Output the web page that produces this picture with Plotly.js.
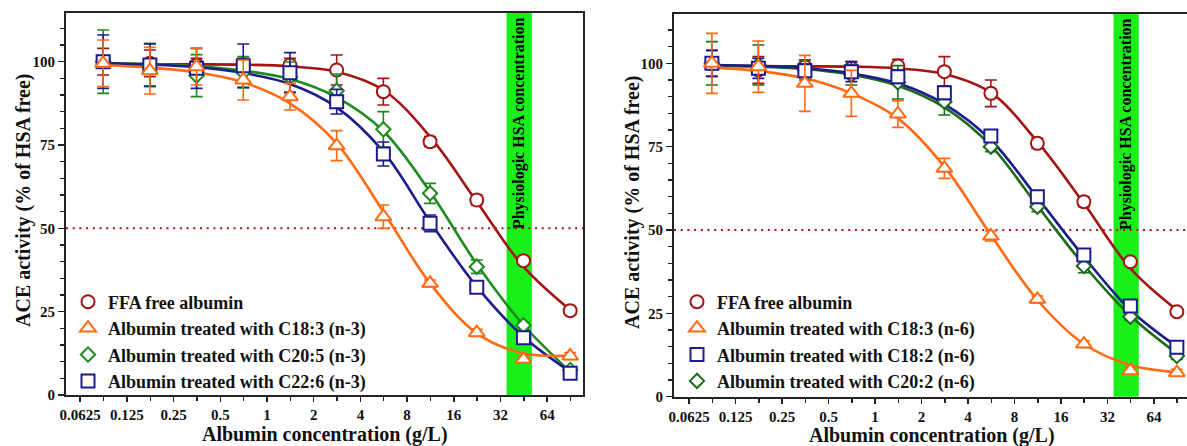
<!DOCTYPE html>
<html><head><meta charset="utf-8">
<script src="https://cdn.plot.ly/plotly-3.0.1.min.js"></script>
<style>html,body{margin:0;padding:0;background:#fff;}#chart{width:1187px;height:446px;}</style>
</head><body><div id="chart"></div>
<script>
// Albumin concentrations (g/L)
const conc = [0.08789, 0.17578, 0.35156, 0.70313, 1.40625, 2.8125, 5.625, 11.25, 22.5, 45, 90];
const tickVals = [0.0625, 0.125, 0.25, 0.5, 1, 2, 4, 8, 16, 32, 64];
const tickText = ['0.0625', '0.125', '0.25', '0.5', '1', '2', '4', '8', '16', '32', '64'];
const minorVals = [0.0884, 0.1768, 0.3536, 0.7071, 1.4142, 2.8284, 5.6569, 11.314, 22.627, 45.255, 90.51];
const physioRange = [35, 51];

// Left panel (n-3): measured points, error bars, fitted curves
const ffaL = [100, 99.5, 99, 99, 99, 97.5, 91, 76, 58.5, 40.3, 25.3];
const ffaLerr = [4, 4, 2, 2, 2, 4.5, 4, 1.5, 1.5, 1, 1];
const ffaLfit = [99.3, 99.2, 99.2, 99.1, 98.6, 97, 91.5, 77.5, 58, 38.5, 25.5];
const c183L = [99.5, 97.3, 98.5, 94.5, 89.5, 74.8, 53.5, 33.5, 18.7, 10.7, 11.7];
const c183Lerr = [7, 7, 5.5, 6, 4, 4.5, 3.5, 1, 1, 1, 1];
const c183Lfit = [99, 98.2, 96.8, 93.8, 87.5, 75.5, 55, 33.5, 18.5, 12.5, 11.8];
const c205L = [100, 99, 95.8, 96.8, 95.4, 91.3, 79.7, 60.5, 38.5, 20.9, 7.5];
const c205Lerr = [9.5, 6.5, 6.3, 4.7, 4.5, 5, 5.3, 3, 2, 1, 1];
const c205Lfit = [99.6, 99.3, 98.6, 97.3, 94.8, 89.3, 79.2, 61, 39.3, 21, 7];
const c226L = [100, 99, 98, 98.8, 96.7, 88, 72.3, 51.5, 32.3, 17.2, 6.5];
const c226Lerr = [8, 6.3, 6, 6.5, 6, 3.7, 3.6, 2.5, 1, 1, 1];
const c226Lfit = [99.5, 99.1, 98.3, 96.6, 93.3, 86.3, 73, 52, 32.5, 17.5, 7];

// Right panel (n-6)
const ffaR = [100, 98, 99, 98.5, 99.2, 97.5, 91, 76, 58.5, 40.5, 25.5];
const ffaRerr = [4, 4, 2, 2, 2, 4.5, 4, 1.5, 1.5, 1, 1];
const ffaRfit = [99.3, 99.2, 99.1, 99, 98.5, 96.8, 91.2, 76.5, 58, 38.5, 26];
const c183R = [100, 99, 94, 91, 84.8, 68.5, 48.2, 29.2, 15.8, 7.8, 7.2];
const c183Rerr = [9, 7.7, 8.4, 6.9, 4, 3, 1.5, 1, 1, 1, 1];
const c183Rfit = [98.8, 97.7, 95.5, 91, 83.5, 69, 48.5, 29, 15.8, 9.5, 7.3];
const c182R = [100, 98.5, 97.8, 97.5, 96, 91.2, 78.2, 60, 42.5, 27.2, 14.8];
const c182Rerr = [3.8, 3, 2, 3, 2, 2, 1.5, 1.5, 1.5, 1, 1];
const c182Rfit = [99.5, 99.2, 98.6, 97, 94, 87.8, 77, 59.7, 42, 26, 15];
const c202R = [100, 99.5, 98, 96.5, 94.3, 88.5, 75, 57, 39.2, 24, 12.2];
const c202Rerr = [6.5, 6, 3, 3, 5, 4, 1.5, 1.5, 2, 1, 1];
const c202Rfit = [99.4, 99, 98.3, 96.6, 93.3, 86.8, 75.3, 57.3, 39.5, 24.3, 13];

const RED = '#a31515', ORANGE = '#ff6a13', GREENL = '#1f8a1f', GREENR = '#1c6b1c', BLUE = '#1c1c8c';
const FONT = 'Liberation Serif, Times New Roman, serif';

function curve(y, color, xa, ya) {
  return {x: conc, y: y, xaxis: xa, yaxis: ya, mode: 'lines', showlegend: false, hoverinfo: 'skip',
    line: {color: color, width: 2.6, shape: 'spline', smoothing: 1}};
}
function pts(y, err, color, sym, size, name, xa, ya, leg, rank) {
  return {x: conc, y: y, xaxis: xa, yaxis: ya, mode: 'markers', name: name, legend: leg, legendrank: rank,
    marker: {symbol: sym, size: size, color: 'white', line: {color: color, width: 2}},
    error_y: {type: 'data', array: err, visible: true, color: color, thickness: 1.6, width: 6}};
}

const traces = [
  curve(ffaLfit, RED, 'x', 'y'), curve(c205Lfit, GREENL, 'x', 'y'), curve(c226Lfit, BLUE, 'x', 'y'), curve(c183Lfit, ORANGE, 'x', 'y'),
  pts(ffaL, ffaLerr, RED, 'circle', 13, 'FFA free albumin', 'x', 'y', 'legend', 1),
  pts(c205L, c205Lerr, GREENL, 'diamond', 11, 'Albumin treated with C20:5 (n-3)', 'x', 'y', 'legend', 3),
  pts(c226L, c226Lerr, BLUE, 'square', 13, 'Albumin treated with C22:6 (n-3)', 'x', 'y', 'legend', 4),
  pts(c183L, c183Lerr, ORANGE, 'triangle-up', 14, 'Albumin treated with C18:3 (n-3)', 'x', 'y', 'legend', 2),

  curve(ffaRfit, RED, 'x2', 'y2'), curve(c202Rfit, GREENR, 'x2', 'y2'), curve(c182Rfit, BLUE, 'x2', 'y2'), curve(c183Rfit, ORANGE, 'x2', 'y2'),
  pts(ffaR, ffaRerr, RED, 'circle', 13, 'FFA free albumin', 'x2', 'y2', 'legend2', 1),
  pts(c202R, c202Rerr, GREENR, 'diamond', 11, 'Albumin treated with C20:2 (n-6)', 'x2', 'y2', 'legend2', 4),
  pts(c182R, c182Rerr, BLUE, 'square', 13, 'Albumin treated with C18:2 (n-6)', 'x2', 'y2', 'legend2', 3),
  pts(c183R, c183Rerr, ORANGE, 'triangle-up', 14, 'Albumin treated with C18:3 (n-6)', 'x2', 'y2', 'legend2', 2)
];

const W = 1187, H = 446;
function xax(domain, range, mirror) {
  return {type: 'log', domain: domain, range: range, tickmode: 'array', tickvals: tickVals, ticktext: tickText,
    ticks: 'outside', ticklen: 5, tickwidth: 1.5, tickcolor: '#222', showline: true, linewidth: 2, linecolor: '#222',
    mirror: mirror, showgrid: false, zeroline: false,
    tickfont: {family: FONT, size: 15, color: '#111', weight: 'bold'},
    minor: {tickmode: 'array', tickvals: minorVals, ticks: 'outside', ticklen: 4, tickwidth: 1.5, tickcolor: '#222', showgrid: false}};
}
function yax(domain, range, mirror, anchor) {
  return {domain: domain, range: range, anchor: anchor, tickmode: 'array', tickvals: [0, 25, 50, 75, 100],
    ticks: 'outside', ticklen: 6, tickwidth: 1.5, tickcolor: '#222', showline: true, linewidth: 2, linecolor: '#222',
    mirror: mirror, showgrid: false, zeroline: false,
    tickfont: {family: FONT, size: 15, color: '#111', weight: 'bold'},
    minor: {dtick: 5, ticks: 'outside', ticklen: 4, tickwidth: 1.5, tickcolor: '#222', showgrid: false}};
}
const lg = Math.log10;
function band(xr, yr) {
  return {type: 'rect', xref: xr, yref: yr + ' domain', x0: physioRange[0], x1: physioRange[1], y0: 0, y1: 1,
    fillcolor: '#19f019', line: {width: 0}, layer: 'below'};
}
function half(xr, yr) {
  return {type: 'line', xref: xr + ' domain', yref: yr, x0: 0, x1: 1, y0: 50, y1: 50,
    line: {color: '#b01010', width: 2, dash: '2px,4.7px'}, layer: 'below'};
}
function bandText(xr, yr) {
  return {xref: xr, yref: yr + ' domain', x: lg(Math.sqrt(physioRange[0] * physioRange[1])), y: 0.995, yanchor: 'top', xanchor: 'center',
    textangle: -90, showarrow: false, text: 'Physiologic HSA concentration',
    font: {family: FONT, size: 16, color: '#000', weight: 'bold'}};
}
function title(text, x, y, angle) {
  return {xref: 'paper', yref: 'paper', x: x, y: y, xanchor: 'center', yanchor: 'middle', showarrow: false,
    textangle: angle, text: text, font: {family: FONT, size: 20, color: '#111', weight: 'bold'}};
}
const legFont = {family: FONT, size: 18, color: '#111', weight: 'bold'};

const layout = {
  width: W, height: H, margin: {l: 0, r: 0, t: 0, b: 0}, paper_bgcolor: '#fff', plot_bgcolor: 'rgba(0,0,0,0)',
  xaxis: xax([66 / W, 583 / W], [-1.2956, 2.0370], true),
  yaxis: yax([1 - 395 / H, 1 - 13 / H], [0, 114.6], true, 'x'),
  xaxis2: Object.assign(xax([674 / W, 1], [-1.3013, 2.0199], true), {anchor: 'y2'}),
  yaxis2: yax([1 - 396.7 / H, 1 - 14 / H], [0, 114.8], false, 'x2'),
  shapes: [band('x', 'y'), half('x', 'y'), band('x2', 'y2'), half('x2', 'y2')],
  annotations: [
    bandText('x', 'y'), bandText('x2', 'y2'),
    title('Albumin concentration (g/L)', 324.5 / W, 1 - 434 / H, 0),
    title('Albumin concentration (g/L)', 932 / W, 1 - 435 / H, 0),
    title('ACE activity (% of HSA free)', 23 / W, 1 - 201 / H, -90),
    title('ACE activity (% of HSA free)', 632 / W, 1 - 203 / H, -90)
  ],
  legend: {x: 68 / W, y: 1 - 283.5 / H, xanchor: 'left', yanchor: 'top', bgcolor: 'rgba(0,0,0,0)', font: legFont, traceorder: 'normal'},
  legend2: {x: 677 / W, y: 1 - 283.5 / H, xanchor: 'left', yanchor: 'top', bgcolor: 'rgba(0,0,0,0)', font: legFont, traceorder: 'normal'},
  showlegend: true
};

Plotly.newPlot('chart', traces, layout, {staticPlot: true, displayModeBar: false});
</script></body></html>
